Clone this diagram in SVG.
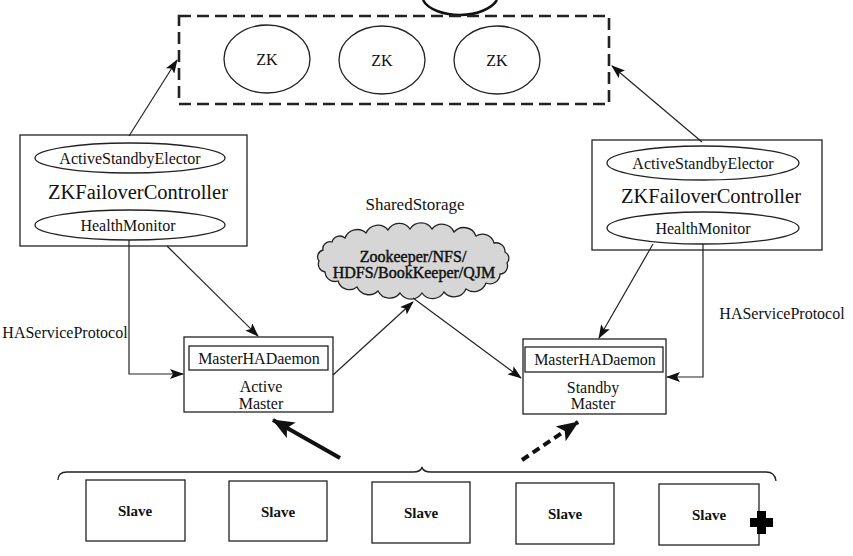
<svg xmlns="http://www.w3.org/2000/svg" width="853" height="556" viewBox="0 0 853 556">
<style>
text{font-family:'Liberation Serif','DejaVu Serif','Times New Roman',serif;fill:#111;text-anchor:middle;dominant-baseline:central}
.box{fill:#fff;stroke:#222;stroke-width:1.3}
.ell{fill:#fff;stroke:#222;stroke-width:1.3}
.ln{fill:none;stroke:#222;stroke-width:1.2}
.t14{font-size:16px}
.big{font-size:20.5px}
.slave{font-size:15px;font-weight:bold}
.cl{font-size:16px;stroke:#111;stroke-width:0.45}
</style>
<defs>
<marker id="ah" viewBox="0 0 14 10" refX="13" refY="5" markerWidth="14" markerHeight="10" markerUnits="userSpaceOnUse" orient="auto">
<path d="M0,0 L14,5 L0,10 L3,5 z" fill="#111"/>
</marker>
<marker id="ahb" viewBox="0 0 22 18" refX="21" refY="9" markerWidth="22" markerHeight="18" markerUnits="userSpaceOnUse" orient="auto">
<path d="M0,0 L22,9 L0,18 L5,9 z" fill="#111"/>
</marker>
</defs>
<rect width="853" height="556" fill="#fff"/>

<!-- partial ellipse at top -->
<path d="M423,0 C428,10 445,15 460,15 C478,15 492,8 497,0" fill="none" stroke="#111" stroke-width="2.5"/>

<g id="zk-cluster">
<rect x="179" y="16" width="430" height="88" fill="none" stroke="#222" stroke-width="2.6" stroke-dasharray="12,6"/>
<g id="zk1"><ellipse class="ell" cx="267" cy="59" rx="43" ry="34"/><text class="t14" x="267" y="59">ZK</text></g>
<g id="zk2"><ellipse class="ell" cx="382" cy="60" rx="43" ry="34"/><text class="t14" x="382" y="60">ZK</text></g>
<g id="zk3"><ellipse class="ell" cx="497" cy="60" rx="43" ry="34"/><text class="t14" x="497" y="60">ZK</text></g>
</g>

<g id="zkfc-left">
<rect class="box" x="20" y="135" width="227" height="111"/>
<ellipse class="ell" cx="130" cy="158" rx="95" ry="15"/>
<text class="t14" x="130" y="158">ActiveStandbyElector</text>
<text class="big" x="138" y="192">ZKFailoverController</text>
<ellipse class="ell" cx="130" cy="225" rx="95" ry="15"/>
<text class="t14" x="128" y="225">HealthMonitor</text>
</g>

<g id="zkfc-right">
<rect class="box" x="592" y="140" width="230" height="110"/>
<ellipse class="ell" cx="703" cy="163" rx="96" ry="17"/>
<text class="t14" x="703" y="163">ActiveStandbyElector</text>
<text class="big" x="711" y="196">ZKFailoverController</text>
<ellipse class="ell" cx="703" cy="228" rx="96" ry="16"/>
<text class="t14" x="703" y="228">HealthMonitor</text>
</g>

<g id="shared-storage">
<text style="font-size:17px" x="415" y="204">SharedStorage</text>
<path d="M345,238 A13,13 0 0 1 366,233 A13,13 0 0 1 388,230 A13,13 0 0 1 410,229 A13,13 0 0 1 432,229 A13,13 0 0 1 454,232 A13,13 0 0 1 476,236 A12,12 0 0 1 494,243 A9,9 0 0 1 505,252 A7,7 0 0 1 507,263 A8,8 0 0 1 500,274 A10,10 0 0 1 486,283 A13,13 0 0 1 466,289 A13,13 0 0 1 444,292 A13,13 0 0 1 422,293 A13,13 0 0 1 400,293 A13,13 0 0 1 378,291 A13,13 0 0 1 357,287 A12,12 0 0 1 338,281 A10,10 0 0 1 325,272 A8,8 0 0 1 319,261 A7,7 0 0 1 323,250 A7,7 0 0 1 332,242 A8,8 0 0 1 345,238 z" fill="#d6d6d6" stroke="#222" stroke-width="1.3"/>
<text class="cl" x="413" y="256">Zookeeper/NFS/</text>
<text class="cl" x="414" y="272">HDFS/BookKeeper/QJM</text>
</g>

<g id="active-master">
<rect class="box" x="184" y="337" width="149" height="75"/>
<rect class="box" x="189" y="346" width="139" height="24"/>
<text class="t14" x="259" y="358">MasterHADaemon</text>
<text class="t14" x="261" y="386">Active</text>
<text class="t14" x="261" y="403">Master</text>
</g>

<g id="standby-master">
<rect class="box" x="523" y="339" width="143" height="75"/>
<rect class="box" x="525" y="347" width="138" height="25"/>
<text class="t14" x="595" y="359">MasterHADaemon</text>
<text class="t14" x="593" y="387">Standby</text>
<text class="t14" x="593" y="403">Master</text>
</g>

<g id="labels">
<text class="t14" x="65" y="332">HAServiceProtocol</text>
<text class="t14" x="782" y="313">HAServiceProtocol</text>
</g>

<g id="slaves">
<g id="slave1"><rect class="box" x="86" y="480" width="99" height="61"/><text class="slave" x="135" y="511">Slave</text></g>
<g id="slave2"><rect class="box" x="229" y="481" width="98" height="60"/><text class="slave" x="278" y="512">Slave</text></g>
<g id="slave3"><rect class="box" x="372" y="482" width="98" height="61"/><text class="slave" x="421" y="513">Slave</text></g>
<g id="slave4"><rect class="box" x="516" y="483" width="98" height="61"/><text class="slave" x="565" y="514">Slave</text></g>
<g id="slave5"><rect class="box" x="659" y="484" width="100" height="61"/><text class="slave" x="709" y="515">Slave</text></g>
</g>

<g id="connectors">
<line class="ln" x1="129" y1="136" x2="177" y2="60" marker-end="url(#ah)"/>
<line class="ln" x1="702" y1="142" x2="612" y2="66" marker-end="url(#ah)"/>
<path class="ln" d="M129,240 V374 H183" marker-end="url(#ah)"/>
<line class="ln" x1="167" y1="246" x2="258" y2="336" marker-end="url(#ah)"/>
<line class="ln" x1="333" y1="375" x2="413" y2="302" marker-end="url(#ah)"/>
<line class="ln" x1="413" y1="298" x2="521" y2="378" marker-end="url(#ah)"/>
<line class="ln" x1="653" y1="244" x2="599" y2="338" marker-end="url(#ah)"/>
<path class="ln" d="M703,244 V377 H667" marker-end="url(#ah)"/>
<line x1="340" y1="458" x2="273" y2="420" stroke="#111" stroke-width="4" marker-end="url(#ahb)"/>
<line x1="522" y1="460" x2="578" y2="422" stroke="#111" stroke-width="4" stroke-dasharray="8,5" marker-end="url(#ahb)"/>
<path d="M58,480 Q58,472 67,472 H413 Q421,472 422,467 Q423,472 431,472 H766 Q775,472 776,481" fill="none" stroke="#222" stroke-width="1.3"/>
</g>

<path d="M757,511 h9 v7 h7 v9 h-7 v7 h-9 v-7 h-7 v-9 h7 z" fill="#000"/>
</svg>
